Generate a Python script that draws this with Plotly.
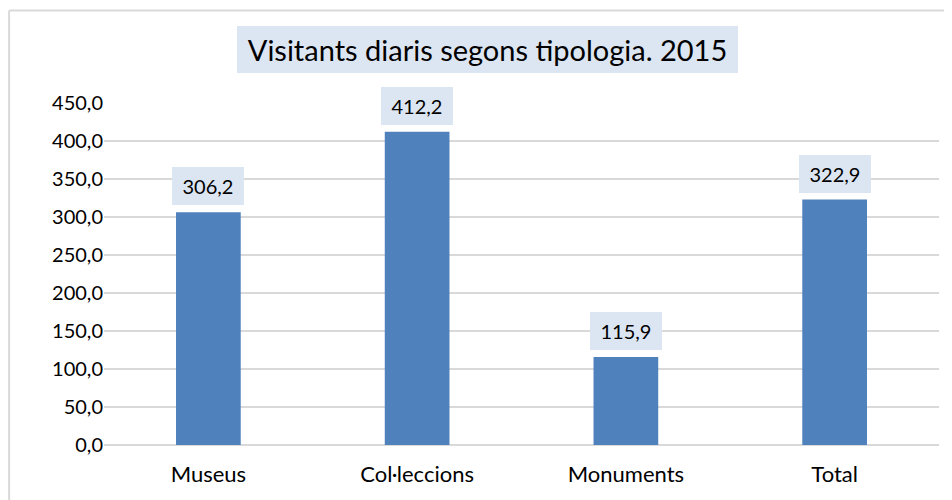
import plotly.graph_objects as go

categories = ["Museus", "Col·leccions", "Monuments", "Total"]
values = [306.2, 412.2, 115.9, 322.9]
tick_vals = [0, 50, 100, 150, 200, 250, 300, 350, 400, 450]
tick_text = ["0,0", "50,0", "100,0", "150,0", "200,0", "250,0", "300,0", "350,0", "400,0", "450,0"]
title_text = "Visitants diaris segons tipologia. 2015"

FONT = "Lato"
BAR = "#4F81BD"
LABEL_BG = "#DCE6F2"
GRID = "#D9D9D9"

# page is offset by the browser's 8px body margin; figure is 944x492
W, H = 944, 492
L, R, T, B = 95.5, 12.5, 95, 55
PW, PH = W - L - R, H - T - B

fig = go.Figure()
fig.add_trace(go.Bar(x=categories, y=values, marker=dict(color=BAR, line=dict(width=0)),
                     width=0.31, hoverinfo="skip"))

annotations = []
for c, v in zip(categories, values):
    annotations.append(dict(
        x=c, y=v, xref="x", yref="y", text=f"{v:.1f}".replace(".", ","),
        showarrow=False, yanchor="bottom", yshift=7,
        bgcolor=LABEL_BG, borderpad=4, borderwidth=0,
        width=64, height=30,
        font=dict(family=FONT, size=20, color="#000000"),
    ))

# Title box
annotations.append(dict(
    x=(479.5 - L) / PW, y=(H - B - 41.5) / PH, xref="paper", yref="paper",
    text=title_text, showarrow=False, xanchor="center", yanchor="middle",
    bgcolor=LABEL_BG, borderpad=4, borderwidth=0, width=493, height=39,
    font=dict(family=FONT, size=29, color="#000000"),
))

bx = (0.5 - L) / PW
by = (H - B - 2.5) / PH
shapes = [
    dict(type="line", xref="paper", yref="paper", x0=bx, x1=1.2, y0=by, y1=by,
         line=dict(color=GRID, width=2)),
    dict(type="line", xref="paper", yref="paper", x0=bx, x1=bx, y0=by, y1=-0.3,
         line=dict(color=GRID, width=2)),
]

fig.update_layout(
    width=W, height=H,
    margin=dict(l=L, r=R, t=T, b=B),
    paper_bgcolor="white", plot_bgcolor="white",
    showlegend=False,
    annotations=annotations,
    shapes=shapes,
    font=dict(family=FONT, size=20, color="#000000"),
    xaxis=dict(showgrid=False, showline=False, zeroline=False,
               ticks="", ticklabelstandoff=14,
               tickfont=dict(family=FONT, size=22, color="#000000")),
    yaxis=dict(range=[0, 450], tickvals=tick_vals, ticktext=tick_text,
               showgrid=True, gridcolor=GRID, gridwidth=1.5,
               zeroline=True, zerolinecolor=GRID, zerolinewidth=1.5,
               showline=False, ticks="", ticklabelstandoff=0,
               tickfont=dict(family=FONT, size=20, color="#000000")),
)

fig.write_html("out.html")
